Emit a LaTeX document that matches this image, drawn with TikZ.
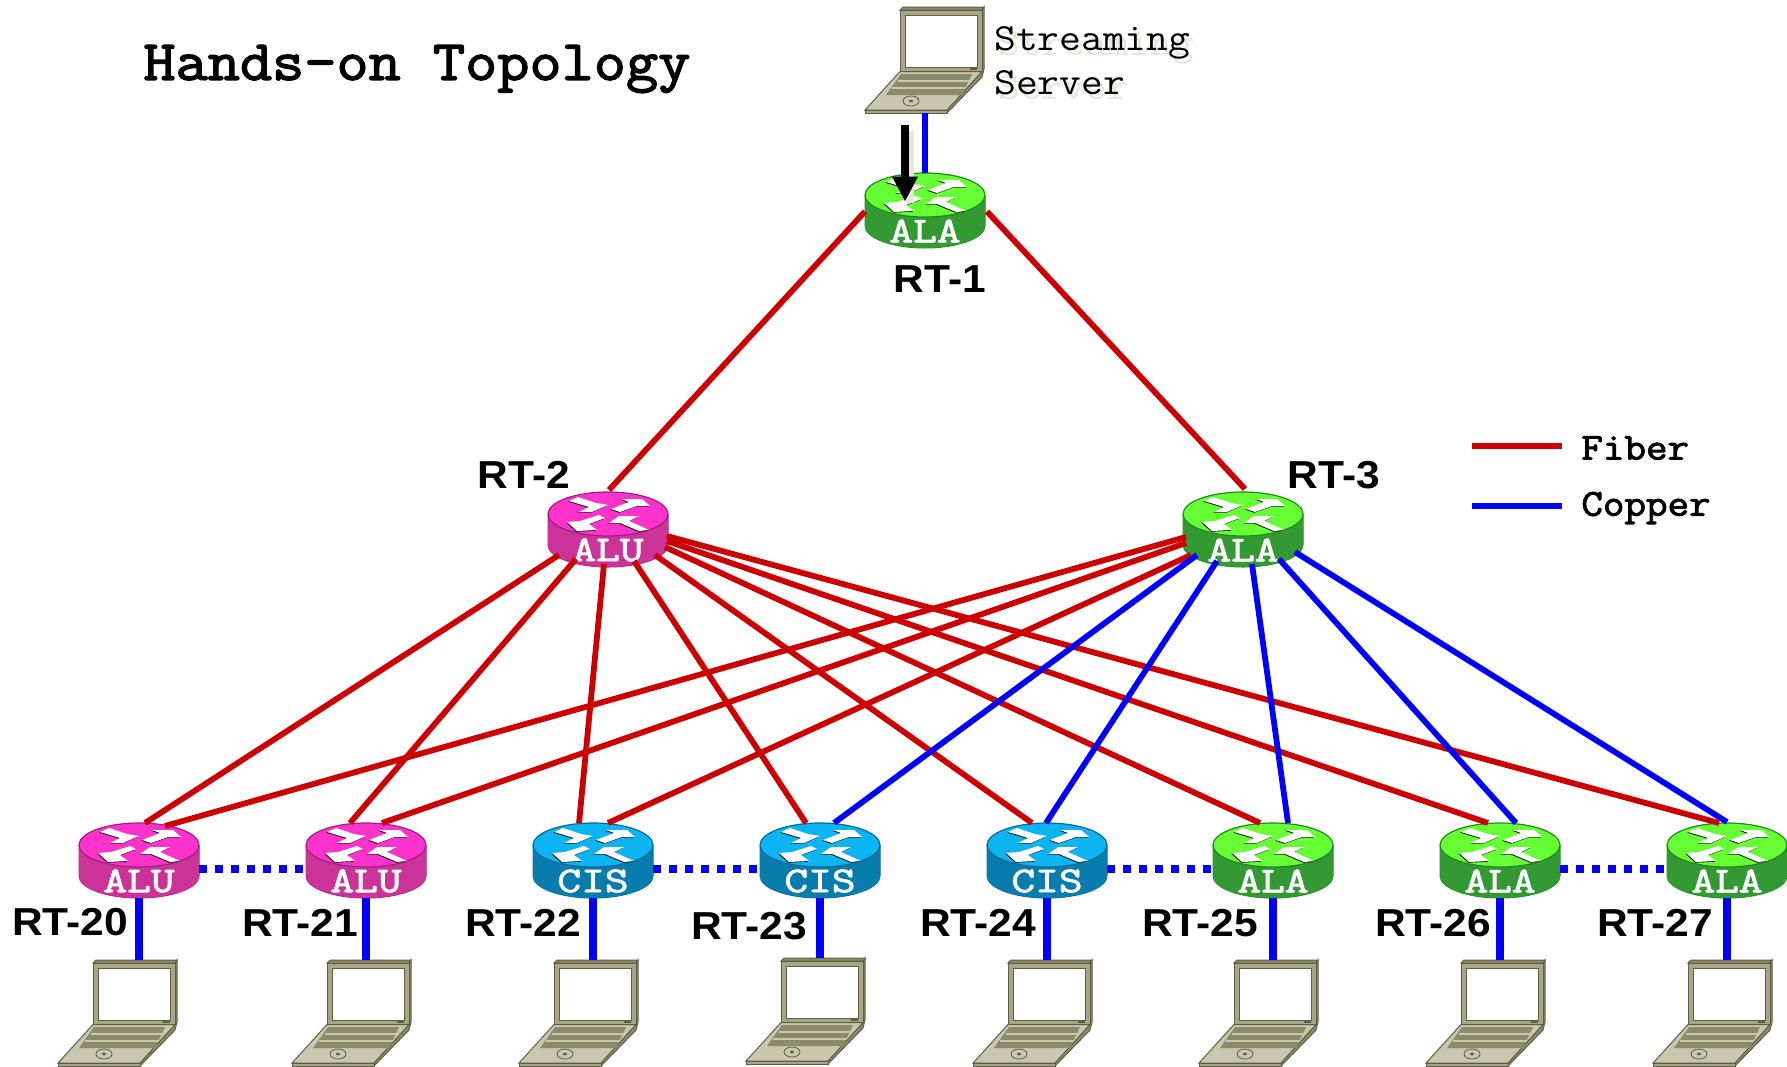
\documentclass[tikz,border=0pt]{standalone}
\usepackage{fontspec}
\setmainfont[FakeStretch=1.09]{Liberation Sans}
\newfontfamily\slabfont[FakeStretch=1.1]{Latin Modern Mono}
\newfontfamily\slabbold[FakeStretch=1.1,FakeBold=2.5]{Latin Modern Mono}
\newfontfamily\routerfont[FakeStretch=1.28,FakeBold=2.5]{Latin Modern Mono}
\usetikzlibrary{arrows.meta}

\definecolor{alutop}{HTML}{FF33CC}
\definecolor{aluside}{HTML}{CC3399}
\definecolor{aluedge}{HTML}{99227F}
\definecolor{alatop}{HTML}{66FF33}
\definecolor{alaside}{HTML}{339933}
\definecolor{alaedge}{HTML}{1F8A1F}
\definecolor{cistop}{HTML}{0DB4F2}
\definecolor{cisside}{HTML}{087CAD}
\definecolor{cisedge}{HTML}{086A94}
\definecolor{lidcol}{HTML}{A8A585}
\definecolor{basecol}{HTML}{C9C7B0}
\definecolor{darkcol}{HTML}{5E5E46}
\definecolor{keycol}{HTML}{8B8B6A}
\definecolor{shadowcol}{HTML}{E8E6DC}
\definecolor{fibercol}{HTML}{CC0000}

\tikzset{
  fiberlink/.style={draw=fibercol,line width=2.9pt},
  copperlink/.style={draw=blue,line width=2.9pt},
  hostlink/.style={draw=blue,line width=4pt},
  peerlink/.style={draw=blue,line width=3.8pt,dash pattern=on 4pt off 4pt},
  legendlink/.style={line width=2.9pt},
  routerbox/.style={minimum width=60pt,minimum height=37.5pt,inner sep=0pt},
  laptopbox/.style={minimum width=59.5pt,minimum height=53pt,inner sep=0pt},
  routertext/.style={font=\routerfont\fontsize{18}{18}\selectfont,text=white,inner sep=0pt},
  rtlabel/.style={font=\bfseries\fontsize{19.5}{20}\selectfont,inner sep=0pt},
  legendtext/.style={font=\slabbold\fontsize{19}{20}\selectfont,anchor=west,inner sep=0pt},
  servertext/.style={font=\slabfont\fontsize{19.2}{20}\selectfont,anchor=west,inner sep=0pt},
}

% name, x, y of top, colour family, text
\newcommand{\router}[5]{
  \node[routerbox] (#1) at (#2,#3+37.5) {};
  \begin{scope}[shift={(#2,#3)}]
    \fill[#4edge] (-60.5,22) -- (-60.5,53) arc[start angle=180,end angle=360,x radius=30.25pt,y radius=11.25pt] -- (60.5,22) -- cycle;
    \fill[#4side] (-60,22) -- (-60,53) arc[start angle=180,end angle=360,x radius=30pt,y radius=11pt] -- (60,22) -- cycle;
    \draw[#4edge,fill=#4top,line width=0.6pt] (0,22) circle[x radius=30pt,y radius=11pt];
    \begin{scope}[shift={(0,22)}]
      \foreach \dx/\dy/\fc in {-0.7/0.7/black,0/0/white} {
        \fill[\fc,shift={(\dx,\dy)}] (-39,-13) -- (-30,-17) -- (-12,-11) -- (0,-9) -- (-16,-2) -- (-29,-2) -- (-19,-7) -- cycle;
        \fill[\fc,shift={(\dx,\dy)}] (3,-5) -- (21,-12) -- (13,-15) -- (34,-15) -- (42,-8) -- (29,-8) -- (12,-2) -- cycle;
        \fill[\fc,shift={(\dx,\dy)}] (-9,1) -- (-3,4) -- (-19,10) -- (-11,16) -- (-31,17) -- (-41,8) -- (-28,7) -- cycle;
        \fill[\fc,shift={(\dx,\dy)}] (41,16) -- (31,17) -- (12,9) -- (1,9) -- (11,2) -- (31,2) -- (21,7) -- cycle;
      }
    \end{scope}
    \node[routertext] (#1text) at (0,58) {#5};
  \end{scope}
}

% name, x, y of top left corner of the lid
\newcommand{\laptop}[3]{
  \node[laptopbox] (#1) at (#2+24.5,#3+53) {};
  \begin{scope}[shift={(#2,#3)},draw=darkcol,line width=0.5pt]
    \draw[fill=keycol] (82,3) -- (84,0) -- (84,62) -- (82,70) -- (47,106) -- (47,103) -- cycle;
    \draw[fill=keycol] (0,3) -- (3,0) -- (84,0) -- (82,3) -- cycle;
    \draw[fill=lidcol] (0,3) rectangle (82,64.5);
    \draw[fill=white] (5,8) rectangle (77,60);
    \fill[darkcol] (70,61) rectangle (77,63);
    \draw[fill=basecol] (0,64.5) -- (82,64.5) -- (47,103) -- (-35,103) -- cycle;
    \draw[fill=lidcol] (-35,103) -- (47,103) -- (47,106) -- (-35,106) -- cycle;
    \fill[keycol] (1,67) -- (72,67) -- (62,88) -- (-14,88) -- cycle;
    \draw[basecol,line width=0.7pt] (-2,74) -- (69,74) (-8,81) -- (66,81);
    \draw[darkcol,line width=0.4pt] (11,94) circle[x radius=4pt,y radius=2.5pt];
    \fill[darkcol] (11,94) circle[x radius=1pt,y radius=0.7pt];
  \end{scope}
}

\begin{document}
\begin{tikzpicture}[x=0.5pt,y=-0.5pt]
  \useasboundingbox (0,0) rectangle (1787,1066);

  \node[font=\slabbold\fontsize{28.4}{30}\selectfont,anchor=west,inner sep=0pt] (title) at (143,69) {Hands-on Topology};

  \laptop{server}{900}{7}
  \node[servertext,text=shadowcol] (streamshadow) at (998,48) {Streaming};
  \node[servertext,text=shadowcol] (servershadow) at (998,88) {Server};
  \node[servertext] (streamtext) at (994,43) {Streaming};
  \node[servertext] (servertext) at (994,83) {Server};

  \router{rt1}{925}{173}{ala}{ALA}
  \router{rt2}{608}{492}{alu}{ALU}
  \router{rt3}{1243}{492}{ala}{ALA}
  \foreach \rt/\cx/\fam/\txt in {rt20/139/alu/ALU,rt21/366/alu/ALU,rt22/593/cis/CIS,rt23/820/cis/CIS,
      rt24/1047/cis/CIS,rt25/1273/ala/ALA,rt26/1500/ala/ALA,rt27/1727/ala/ALA} {
    \router{\rt}{\cx}{823}{\fam}{\txt}
  }
  \foreach \lap/\lx/\ly in {lap20/93/960,lap21/327/960,lap22/554/960,lap23/781/958,
      lap24/1008/960,lap25/1234/960,lap26/1461/960,lap27/1688/960} {
    \laptop{\lap}{\lx}{\ly}
  }

  % labels
  \foreach \rt/\lx/\ly/\txt in {rt1/940/279/RT-1,rt2/524/475/RT-2,rt3/1334/475/RT-3,
      rt20/70/922/RT-20,rt21/300/923/RT-21,rt22/523/923/RT-22,rt23/749/926/RT-23,
      rt24/978/923/RT-24,rt25/1200/923/RT-25,rt26/1433/923/RT-26,rt27/1655/923/RT-27} {
    \node[rtlabel] (\rt label) at (\lx,\ly) {\txt};
  }

  % links
  \draw[copperlink,line width=3pt] (rt1.north) -- (rt1.north |- server.south);
  \draw[fiberlink] ([shift={(-60,1)}]rt1.center) -- ([shift={(1,-39.5)}]rt2.center);
  \draw[fiberlink] ([shift={(62,1)}]rt1.center) -- ([shift={(2,-40.5)}]rt3.center);
  \foreach \dst/\sx/\sy/\dx/\dy in {rt20/-49/25.5/6/-37.5,rt21/-32/29.5/-16/-37.5,rt22/-4/34.5/-14/-37.5,
      rt23/26/31.5/-14/-37.5,rt24/47/25.5/-15/-37.5,rt25/57/17.5/-13/-37.5,
      rt26/59/11.5/-12/-37.5,rt27/59/6.5/-8/-37.5} {
    \draw[fiberlink] ([shift={(\sx,\sy)}]rt2.center) -- ([shift={(\dx,\dy)}]\dst.center);
  }
  \foreach \dst/\sx/\sy/\dx/\dy in {rt20/-57/7.5/26/-34.5,rt21/-57/13.5/16/-37.5,rt22/-52/25.5/15/-37.5} {
    \draw[fiberlink] ([shift={(\sx,\sy)}]rt3.center) -- ([shift={(\dx,\dy)}]\dst.center);
  }
  \foreach \dst/\sx/\sy/\dx/\dy in {rt23/-46/25.5/14/-37.5,rt24/-26/31.5/-1/-37.5,rt25/9/34.5/15/-37.5,
      rt26/36/29.5/16/-37.5,rt27/52/22.5/0/-38.5} {
    \draw[copperlink] ([shift={(\sx,\sy)}]rt3.center) -- ([shift={(\dx,\dy)}]\dst.center);
  }
  \foreach \rt/\lap in {rt20/lap20,rt21/lap21,rt22/lap22,rt23/lap23,rt24/lap24,rt25/lap25,rt26/lap26,rt27/lap27} {
    \draw[hostlink] (\rt.south) -- (\rt.south |- \lap.north);
  }
  \foreach \a/\b in {rt20/rt21,rt22/rt23,rt24/rt25,rt26/rt27} {
    \draw[peerlink] ([shift={(0,8.5)}]\a.east) -- ([shift={(0,8.5)}]\b.west);
  }

  % legend
  \node[legendtext] (fibertext) at (1581,448) {Fiber};
  \node[legendtext] (coppertext) at (1581,508) {Copper};
  \coordinate (fiberstart) at (1472,446);
  \coordinate (copperstart) at (1472,506);
  \draw[legendlink,fibercol] (fiberstart) -- ([shift={(-19,-2)}]fibertext.west);
  \draw[legendlink,blue] (copperstart) -- ([shift={(-19,-2)}]coppertext.west);

  % flow arrow
  \coordinate (flowstart) at (905,125);
  \coordinate (flowshadow) at (910,131);
  \draw[shadowcol,line width=4pt] (flowshadow) -- ([shift={(-15,30)}]rt1.north);
  \draw[black,line width=4pt,-{Triangle[length=12.5pt,width=12pt]}] (flowstart) -- ([shift={(-20,29)}]rt1.north);
\end{tikzpicture}
\end{document}
